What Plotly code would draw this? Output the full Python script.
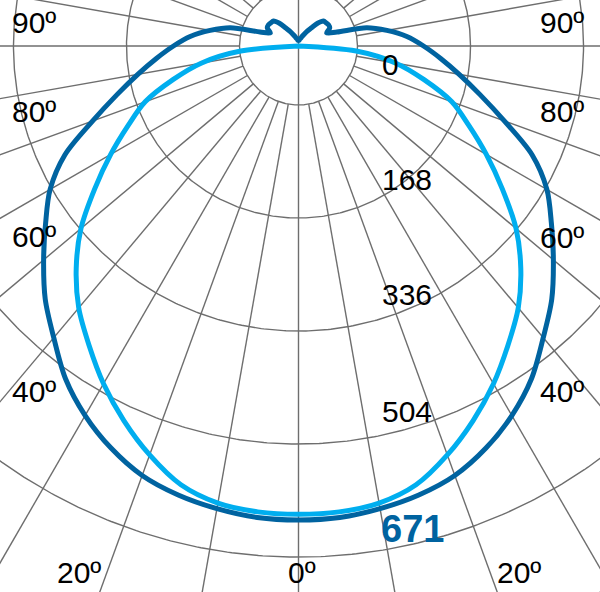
import numpy as np
import plotly.graph_objects as go

# Light distribution curve, one half plane each (symmetric), gamma in degrees from nadir
GAMMA_C0 = [0, 5, 10, 15, 20, 25, 30, 35, 40, 45, 50, 55, 60, 65, 70, 75, 80, 85, 90,
            95, 100, 105, 110, 115, 120, 125, 130, 135, 140, 145, 150, 155, 160, 165,
            170, 175, 180]
CD_C0 = [671, 670, 665, 658, 647, 628, 604, 575, 539, 507, 471, 437, 406, 365, 310,
         266, 231, 202, 177, 154, 127, 100, 58, 44, 51, 52, 51, 50, 42, 31, 24, 18,
         14, 11, 10, 8, 8]

GAMMA_C90 = [0, 5, 10, 15, 20, 25, 30, 35, 40, 45, 50, 55, 60, 65, 70, 75, 80, 85, 90]
CD_C90 = [663, 662, 657, 643, 616, 585, 552, 517, 484, 445, 402, 352, 307, 266, 231,
          184, 140, 82, 0]

RING_LABELS = ["0", "168", "336", "504"]
PEAK_LABEL = "671"
ANGLE_LABELS = ["90º", "80º", "60º", "40º", "20º", "0º", "20º", "40º", "60º", "80º", "90º"]

DARK = "#0063a0"
LIGHT = "#00aeef"
GRID = "#6e6e6e"

W, H = 600, 592
CX, CY = 298.5, 46          # pole position in pixels
PX_PER_CD = 474 / 671
HOLE = 83.5                 # inner ring (cd)
RING_STEP = 160


def half_to_xy(gamma, cd):
    g = np.radians(np.array(gamma, dtype=float))
    r = np.array(cd, dtype=float)
    xr, yr = r * np.sin(g), -r * np.cos(g)
    x = np.concatenate([xr, -xr[::-1]])
    y = np.concatenate([yr, yr[::-1]])
    return x, y


fig = go.Figure()

# grid: rings
t = np.linspace(0, 2 * np.pi, 721)
gx, gy = [], []
for k in range(6):
    rr = HOLE + k * RING_STEP
    gx += list(rr * np.cos(t)) + [None]
    gy += list(rr * np.sin(t)) + [None]
# spokes every 10 deg
far = 1200
for a in range(0, 360, 10):
    ar = np.radians(a)
    r0 = 0 if a % 180 == 0 else HOLE
    gx += [r0 * np.sin(ar), far * np.sin(ar), None]
    gy += [-r0 * np.cos(ar), -far * np.cos(ar), None]
fig.add_trace(go.Scatter(x=gx, y=gy, mode="lines", hoverinfo="skip",
                         line=dict(color=GRID, width=1.4)))

x0, y0 = half_to_xy(GAMMA_C0, CD_C0)
fig.add_trace(go.Scatter(x=x0, y=y0, mode="lines", name="C0-C180",
                         line=dict(color=DARK, width=5, shape="spline", smoothing=0.9)))
x9, y9 = half_to_xy(GAMMA_C90, CD_C90)
fig.add_trace(go.Scatter(x=x9, y=y9, mode="lines", name="C90-C270",
                         line=dict(color=LIGHT, width=5, shape="spline", smoothing=0.9)))

ann = []
font = dict(family="Liberation Sans, Arial, sans-serif", size=30, color="black")
label_y = [65, 179.5, 295, 411]
for txt, py in zip(RING_LABELS, label_y):
    ann.append(dict(x=380 / W, y=1 - py / H, xref="paper", yref="paper", text=txt,
                    showarrow=False, xanchor="left", yanchor="middle", font=font))
ann.append(dict(x=379 / W, y=1 - 529 / H, xref="paper", yref="paper",
                text="<b>" + PEAK_LABEL + "</b>", showarrow=False, xanchor="left",
                yanchor="middle",
                font=dict(family="Liberation Sans, Arial, sans-serif", size=38, color=DARK)))
angle_pos = [(34, 23), (34, 111), (33.5, 236), (33.5, 391), (78.5, 572.5), (302, 572.5),
             (518.5, 572.5), (561.5, 391), (561.5, 237), (561.5, 111), (561.5, 22.5)]
for txt, (px, py) in zip(ANGLE_LABELS, angle_pos):
    ann.append(dict(x=px / W, y=1 - py / H, xref="paper", yref="paper", text=txt,
                    showarrow=False, xanchor="center", yanchor="middle", font=font))

fig.update_layout(
    width=W, height=H, margin=dict(l=0, r=0, t=0, b=0),
    paper_bgcolor="white", plot_bgcolor="white", showlegend=False,
    xaxis=dict(range=[-CX / PX_PER_CD, (W - CX) / PX_PER_CD], visible=False, fixedrange=True),
    yaxis=dict(range=[-(H - CY) / PX_PER_CD, CY / PX_PER_CD], visible=False, fixedrange=True),
    annotations=ann,
)
# page body has a default 8px margin; drop it so the figure fills the window
fig.write_html("out.html", config={"displayModeBar": False},
               post_script="document.body.style.margin='0';document.body.style.overflow='hidden';")
